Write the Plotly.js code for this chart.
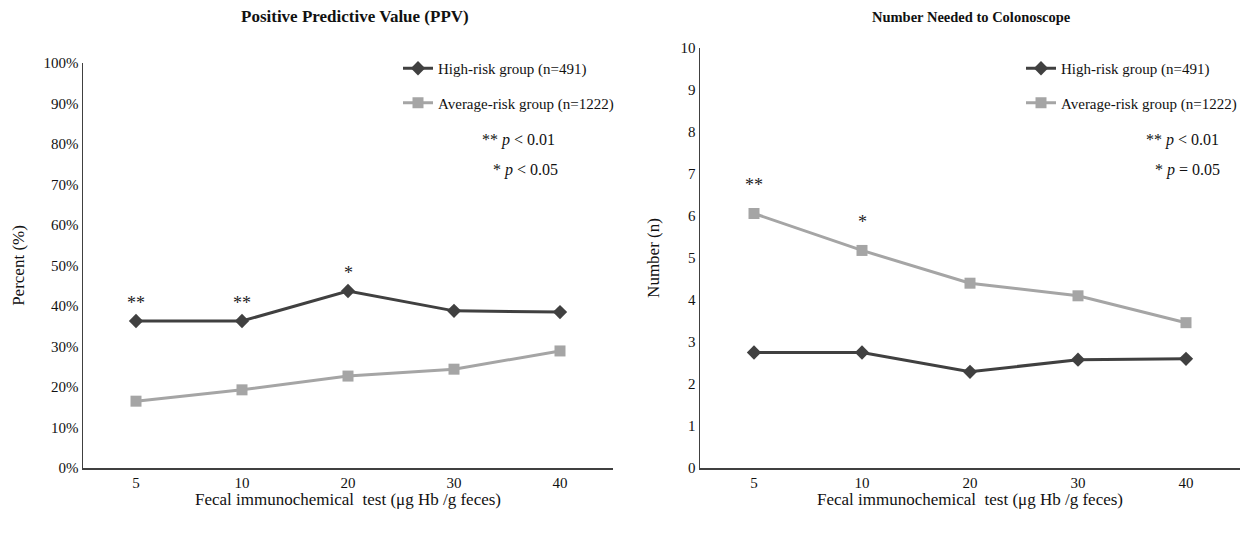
<!DOCTYPE html>
<html><head><meta charset="utf-8">
<script src="https://cdn.plot.ly/plotly-3.0.1.min.js"></script>
<style>body{margin:0;background:#fff}#c{width:1253px;height:534px}</style>
</head><body><div id="c"></div>
<script>
const fitLevels = ['5', '10', '20', '30', '40'];
const ppvHigh = [36.3, 36.3, 43.7, 38.8, 38.5];
const ppvAvg = [16.5, 19.3, 22.7, 24.4, 28.9];
const nncHigh = [2.75, 2.75, 2.29, 2.58, 2.6];
const nncAvg = [6.06, 5.18, 4.4, 4.1, 3.46];
const ppvStars = ['**', '**', '*', '', ''];
const nncStars = ['**', '*', '', '', ''];

const serif = 'Liberation Serif';
const dark = '#404040', light = '#a5a5a5';

function tr(y, name, color, sym, size, xa, ya, legend, grp) {
  return {x: fitLevels, y: y, name: name, type: 'scatter', mode: 'lines+markers',
    line: {color: color, width: 3}, marker: {symbol: sym, size: size, color: color},
    xaxis: xa, yaxis: ya, legend: legend, legendgroup: grp, cliponaxis: false};
}
const data = [
  tr(ppvHigh, 'High-risk group (n=491)', dark, 'diamond', 11, 'x', 'y', 'legend', 'a'),
  tr(ppvAvg, 'Average-risk group (n=1222)', light, 'square', 11, 'x', 'y', 'legend', 'b'),
  tr(nncHigh, 'High-risk group (n=491)', dark, 'diamond', 11, 'x2', 'y2', 'legend2', 'a'),
  tr(nncAvg, 'Average-risk group (n=1222)', light, 'square', 11, 'x2', 'y2', 'legend2', 'b')
];

const ann = [];
fitLevels.forEach((c, i) => {
  if (ppvStars[i]) ann.push({x: i, y: ppvHigh[i], xref: 'x', yref: 'y', text: ppvStars[i], showarrow: false, yshift: 18, font: {family: serif, size: 18, color: '#222'}});
  if (nncStars[i]) ann.push({x: i, y: nncAvg[i], xref: 'x2', yref: 'y2', text: nncStars[i], showarrow: false, yshift: 28, font: {family: serif, size: 18, color: '#222'}});
});
const tf = {family: serif, size: 16, color: '#111'};
ann.push({xref: 'paper', yref: 'paper', x: 557/1253, y: 1 - 140/534, xanchor: 'right', yanchor: 'middle', text: '** <i>p</i> < 0.01', showarrow: false, font: tf});
ann.push({xref: 'paper', yref: 'paper', x: 560/1253, y: 1 - 170/534, xanchor: 'right', yanchor: 'middle', text: '* <i>p</i> < 0.05', showarrow: false, font: tf});
ann.push({xref: 'paper', yref: 'paper', x: 1221/1253, y: 1 - 140/534, xanchor: 'right', yanchor: 'middle', text: '** <i>p</i> < 0.01', showarrow: false, font: tf});
ann.push({xref: 'paper', yref: 'paper', x: 1222/1253, y: 1 - 170/534, xanchor: 'right', yanchor: 'middle', text: '* <i>p</i> = 0.05', showarrow: false, font: tf});
ann.push({xref: 'paper', yref: 'paper', x: 355/1253, y: 1 - 17/534, xanchor: 'center', yanchor: 'middle', text: '<b>Positive Predictive Value (PPV)</b>', showarrow: false, font: {family: serif, size: 17, color: '#111'}});
ann.push({xref: 'paper', yref: 'paper', x: 971/1253, y: 1 - 17/534, xanchor: 'center', yanchor: 'middle', text: '<b>Number Needed to Colonoscope</b>', showarrow: false, font: {family: serif, size: 14.5, color: '#111'}});

const axBase = {showgrid: false, zeroline: false, showline: true, linecolor: dark, linewidth: 1.5,
  ticks: '', tickfont: {family: serif, size: 15, color: '#111'}};
const xt = {text: 'Fecal immunochemical  test (μg Hb /g feces)', font: {family: serif, size: 17, color: '#111'}, standoff: 0};
const layout = {
  width: 1253, height: 534, margin: {l: 0, r: 0, t: 0, b: 0},
  paper_bgcolor: '#fff', plot_bgcolor: '#fff', showlegend: true,
  xaxis: Object.assign({}, axBase, {domain: [83/1253, 613/1253], type: 'category', range: [-0.5, 4.5], anchor: 'y', title: xt}),
  yaxis: Object.assign({}, axBase, {domain: [66/534, 471/534], range: [0, 100], dtick: 10, ticksuffix: '%', anchor: 'x',
    title: {text: 'Percent (%)', font: {family: serif, size: 17, color: '#111'}, standoff: 14}}),
  xaxis2: Object.assign({}, axBase, {domain: [700/1253, 1240/1253], type: 'category', range: [-0.5, 4.5], anchor: 'y2', title: xt}),
  yaxis2: Object.assign({}, axBase, {domain: [66/534, 486/534], range: [0, 10], dtick: 1, anchor: 'x2',
    title: {text: 'Number (n)', font: {family: serif, size: 17, color: '#111'}, standoff: 16}}),
  legend: {x: 398/1253, y: 1 - 52/534, xanchor: 'left', yanchor: 'top', bgcolor: 'rgba(0,0,0,0)',
    font: {family: serif, size: 15, color: '#111'}, tracegroupgap: 12, traceorder: 'grouped'},
  legend2: {x: 1021/1253, y: 1 - 52/534, xanchor: 'left', yanchor: 'top', bgcolor: 'rgba(0,0,0,0)',
    font: {family: serif, size: 15, color: '#111'}, tracegroupgap: 12, traceorder: 'grouped'},
  annotations: ann
};
Plotly.newPlot('c', data, layout, {staticPlot: true});
</script></body></html>
